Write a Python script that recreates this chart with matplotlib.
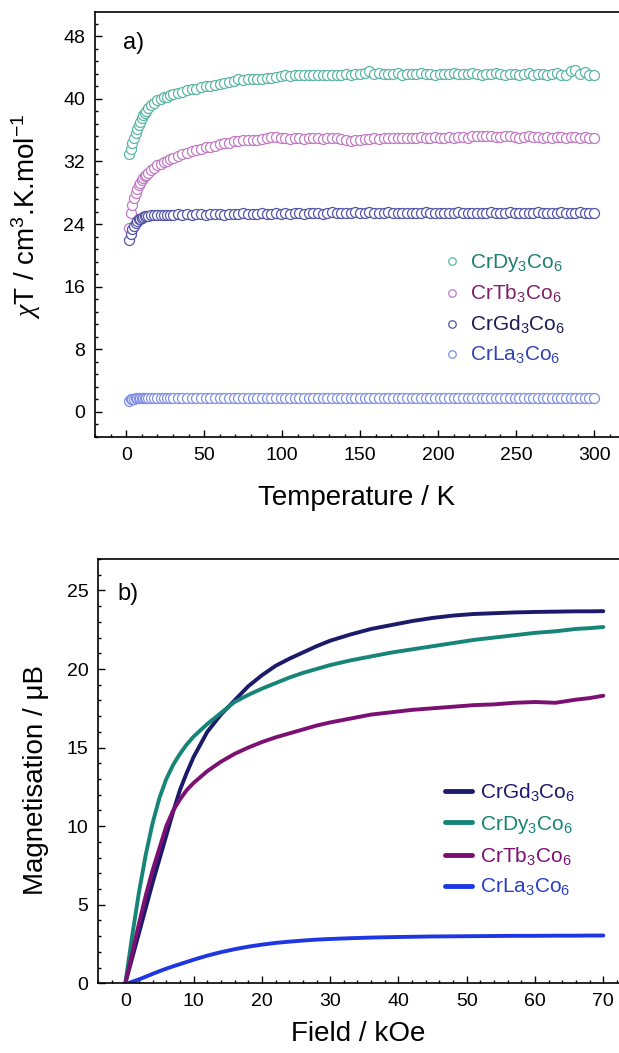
import matplotlib
matplotlib.use("Agg")
import matplotlib.pyplot as plt
from matplotlib.ticker import MultipleLocator, AutoMinorLocator

plt.rcParams['font.family'] = ['Liberation Sans', 'DejaVu Sans']
plt.rcParams['mathtext.fontset'] = 'custom'
plt.rcParams['mathtext.rm'] = 'Liberation Sans'
plt.rcParams['mathtext.it'] = 'Liberation Serif:italic'
plt.rcParams['mathtext.default'] = 'regular'

# ---- a) chi*T vs temperature ----
temperature = [2, 3, 4, 5, 6, 7, 8, 9, 10, 11,
               12, 13, 14, 16, 18, 20, 22, 24, 26, 28,
               30, 33, 36, 39, 42, 45, 48, 51, 54, 57,
               60, 63, 66, 69, 72, 75, 78, 81, 84, 87,
               90, 93, 96, 99, 102, 105, 108, 111, 114, 117,
               120, 123, 126, 129, 132, 135, 138, 141, 144, 147,
               150, 153, 156, 159, 162, 165, 168, 171, 174, 177,
               180, 183, 186, 189, 192, 195, 198, 201, 204, 207,
               210, 213, 216, 219, 222, 225, 228, 231, 234, 237,
               240, 243, 246, 249, 252, 255, 258, 261, 264, 267,
               270, 273, 276, 279, 282, 285, 288, 291, 294, 297,
               300]

chiT_dy = [33.0, 33.6, 34.3, 35.0, 35.6, 36.2, 36.7, 37.1, 37.5, 37.9,
           38.2, 38.5, 38.8, 39.2, 39.5, 39.8, 40.0, 40.2, 40.3, 40.5,
           40.6, 40.8, 40.9, 41.1, 41.2, 41.3, 41.5, 41.6, 41.7, 41.8,
           41.9, 42.0, 42.1, 42.3, 42.6, 42.4, 42.5, 42.5, 42.6, 42.6,
           42.7, 42.7, 42.8, 42.9, 43.1, 42.9, 43.0, 43.0, 43.0, 43.0,
           43.1, 43.0, 43.1, 43.1, 43.1, 43.1, 43.1, 43.2, 43.1, 43.2,
           43.2, 43.3, 43.6, 43.2, 43.3, 43.2, 43.2, 43.2, 43.3, 43.1,
           43.2, 43.2, 43.2, 43.3, 43.2, 43.2, 43.1, 43.2, 43.2, 43.2,
           43.3, 43.2, 43.2, 43.2, 43.3, 43.2, 43.1, 43.2, 43.2, 43.3,
           43.2, 43.1, 43.2, 43.2, 43.1, 43.2, 43.3, 43.1, 43.2, 43.2,
           43.1, 43.2, 43.3, 43.0, 43.1, 43.5, 43.7, 43.2, 43.4, 43.0,
           43.0]

chiT_tb = [23.5, 25.4, 26.5, 27.3, 28.0, 28.5, 29.0, 29.3, 29.6, 29.9,
           30.1, 30.3, 30.5, 30.9, 31.2, 31.5, 31.7, 31.9, 32.1, 32.3,
           32.5, 32.7, 32.9, 33.1, 33.3, 33.5, 33.6, 33.8, 33.9, 34.0,
           34.2, 34.3, 34.4, 34.6, 34.6, 34.7, 34.7, 34.8, 34.8, 34.9,
           35.0, 35.1, 35.1, 35.0, 35.0, 34.9, 35.0, 35.0, 34.9, 35.0,
           35.0, 35.0, 34.9, 35.0, 35.0, 35.0, 34.9, 34.7, 34.6, 34.8,
           34.8, 34.9, 34.9, 35.0, 34.9, 35.0, 35.0, 35.0, 35.0, 35.0,
           35.0, 35.0, 35.0, 35.1, 35.0, 35.0, 35.1, 35.0, 35.0, 35.1,
           35.0, 35.1, 35.1, 35.0, 35.2, 35.3, 35.2, 35.2, 35.2, 35.1,
           35.1, 35.2, 35.2, 35.1, 35.0, 35.1, 35.2, 35.1, 35.1, 35.0,
           35.1, 35.0, 35.1, 35.1, 35.0, 35.1, 35.1, 35.0, 35.1, 35.0,
           35.0]

chiT_gd = [22.0, 22.8, 23.4, 23.8, 24.1, 24.4, 24.6, 24.7, 24.8, 24.9,
           25.0, 25.0, 25.0, 25.1, 25.1, 25.1, 25.2, 25.2, 25.2, 25.2,
           25.2, 25.3, 25.2, 25.3, 25.2, 25.3, 25.3, 25.2, 25.3, 25.3,
           25.3, 25.2, 25.3, 25.3, 25.3, 25.4, 25.3, 25.3, 25.3, 25.4,
           25.3, 25.3, 25.4, 25.3, 25.4, 25.3, 25.4, 25.4, 25.3, 25.4,
           25.4, 25.4, 25.3, 25.4, 25.5, 25.4, 25.4, 25.4, 25.4, 25.5,
           25.4, 25.4, 25.5, 25.4, 25.4, 25.4, 25.5, 25.4, 25.4, 25.4,
           25.4, 25.4, 25.4, 25.4, 25.5, 25.4, 25.4, 25.4, 25.4, 25.4,
           25.4, 25.5, 25.4, 25.4, 25.4, 25.4, 25.4, 25.4, 25.5, 25.4,
           25.4, 25.4, 25.5, 25.4, 25.4, 25.4, 25.4, 25.4, 25.5, 25.4,
           25.4, 25.4, 25.4, 25.5, 25.4, 25.4, 25.4, 25.5, 25.4, 25.4,
           25.4]

chiT_la = [1.4, 1.6, 1.7, 1.7, 1.8, 1.8, 1.8, 1.8, 1.8, 1.8,
           1.8, 1.8, 1.8, 1.8, 1.8, 1.8, 1.8, 1.8, 1.8, 1.8,
           1.8, 1.8, 1.8, 1.8, 1.8, 1.8, 1.8, 1.8, 1.8, 1.8,
           1.8, 1.8, 1.8, 1.8, 1.8, 1.8, 1.8, 1.8, 1.8, 1.8,
           1.8, 1.8, 1.8, 1.8, 1.8, 1.8, 1.8, 1.8, 1.8, 1.8,
           1.8, 1.8, 1.8, 1.8, 1.8, 1.8, 1.8, 1.8, 1.8, 1.8,
           1.8, 1.8, 1.8, 1.8, 1.8, 1.8, 1.8, 1.8, 1.8, 1.8,
           1.8, 1.8, 1.8, 1.8, 1.8, 1.8, 1.8, 1.8, 1.8, 1.8,
           1.8, 1.8, 1.8, 1.8, 1.8, 1.8, 1.8, 1.8, 1.8, 1.8,
           1.8, 1.8, 1.8, 1.8, 1.8, 1.8, 1.8, 1.8, 1.8, 1.8,
           1.8, 1.8, 1.8, 1.8, 1.8, 1.8, 1.8, 1.8, 1.8, 1.8,
           1.8]

# ---- b) magnetisation vs field ----
field = [0, 0.5, 1, 1.5, 2, 3, 4, 5, 6, 7, 8, 9, 10, 12, 14, 16, 18, 20,
         22, 24, 26, 28, 30, 33, 36, 39, 42, 45, 48, 51, 54, 57, 60, 63,
         66, 68, 70]

mag_gd = [0.0, 0.8, 1.6, 2.4, 3.2, 4.8, 6.4, 7.9, 9.4, 10.9, 12.3, 13.4,
          14.4, 16.0, 17.1, 18.0, 18.9, 19.6, 20.2, 20.65, 21.05, 21.45,
          21.8, 22.2, 22.55, 22.8, 23.05, 23.25, 23.4, 23.5, 23.55, 23.6,
          23.63, 23.65, 23.67, 23.67, 23.68]
mag_dy = [0.0, 1.5, 3.0, 4.4, 5.8, 8.2, 10.2, 11.8, 13.0, 13.9, 14.6,
          15.2, 15.7, 16.5, 17.2, 17.9, 18.35, 18.75, 19.1, 19.45, 19.75,
          20.0, 20.25, 20.55, 20.8, 21.05, 21.25, 21.45, 21.65, 21.85,
          22.0, 22.15, 22.3, 22.4, 22.55, 22.6, 22.67]
mag_tb = [0.0, 0.95, 1.9, 2.85, 3.8, 5.6, 7.2, 8.6, 10.0, 11.0, 11.7,
          12.3, 12.75, 13.5, 14.1, 14.6, 15.0, 15.35, 15.65, 15.9, 16.15,
          16.4, 16.6, 16.85, 17.1, 17.25, 17.4, 17.5, 17.6, 17.7, 17.75,
          17.85, 17.9, 17.85, 18.05, 18.15, 18.3]
mag_la = [0.0, 0.02, 0.1, 0.17, 0.25, 0.42, 0.6, 0.77, 0.93, 1.08, 1.22,
          1.36, 1.5, 1.76, 1.98, 2.17, 2.33, 2.46, 2.57, 2.65, 2.72, 2.78,
          2.82, 2.87, 2.91, 2.94, 2.96, 2.98, 2.99, 3.0, 3.01, 3.02, 3.02,
          3.03, 3.03, 3.04, 3.04]

labels = {
    'dy': 'CrDy$_3$Co$_6$',
    'tb': 'CrTb$_3$Co$_6$',
    'gd': 'CrGd$_3$Co$_6$',
    'la': 'CrLa$_3$Co$_6$',
}

W, H = 619, 1053
fig = plt.figure(figsize=(W / 100, H / 100), dpi=100)

ax1 = fig.add_axes([95 / W, 1 - 437 / H, 1 - 95 / W, (437 - 12) / H])
ax2 = fig.add_axes([98 / W, 1 - 983.3 / H, 1 - 98 / W, (983.3 - 559) / H])


def style_axes(ax):
    ax.spines['right'].set_visible(False)
    for s in ['left', 'bottom', 'top']:
        ax.spines[s].set_linewidth(1.2)
    ax.tick_params(which='both', direction='in', top=False, right=False,
                   width=1.0, labelsize=14, pad=7)
    ax.tick_params(which='major', length=5)
    ax.tick_params(which='minor', length=2.5)


# panel a
series_a = [
    (chiT_dy, '#5db5a6', '#1f7f70', labels['dy']),
    (chiT_tb, '#c07ac2', '#7a2368', labels['tb']),
    (chiT_gd, '#5454a6', '#1c1c55', labels['gd']),
    (chiT_la, '#7f8fe6', '#3244b5', labels['la']),
]
handles_a = []
for vals, edge, txt, lab in series_a:
    h, = ax1.plot(temperature, vals, linestyle='none', marker='o', ms=7.2,
                  mfc='white', mec=edge, mew=0.9, label=lab)
    handles_a.append(h)

ax1.set_xlim(-20, 316)
ax1.set_ylim(-3.2, 51.1)
ax1.xaxis.set_major_locator(MultipleLocator(50))
ax1.xaxis.set_minor_locator(MultipleLocator(10))
ax1.yaxis.set_major_locator(MultipleLocator(8))
ax1.yaxis.set_minor_locator(AutoMinorLocator(5))
style_axes(ax1)
ax1.set_xlabel('Temperature / K', fontsize=20)
ax1.set_ylabel(r'$\mathit{\chi}$T / cm$^3$.K.mol$^{-1}$', fontsize=20)
ax1.xaxis.set_label_coords(0.5, -0.112)
ax1.yaxis.set_label_coords(-0.1, 0.52)
ax1.text(0.053, 0.927, 'a)', transform=ax1.transAxes, fontsize=17,
         va='center', ha='left')

leg1 = ax1.legend(handles=handles_a, loc='upper left',
                  bbox_to_anchor=(0.665, 0.435), frameon=False, fontsize=15,
                  handlelength=0.8, handletextpad=0.45, labelspacing=0.42,
                  borderpad=0, borderaxespad=0, markerscale=0.75)
for t, (_, _, txt, _) in zip(leg1.get_texts(), series_a):
    t.set_color(txt)

# panel b
series_b = [
    (mag_gd, '#1b1a6b', '#1b1a6b', labels['gd']),
    (mag_dy, '#168477', '#168477', labels['dy']),
    (mag_tb, '#7b1072', '#7b1072', labels['tb']),
    (mag_la, '#1f36e3', '#2a3ec8', labels['la']),
]
handles_b = []
for vals, col, txt, lab in series_b:
    h, = ax2.plot(field, vals, color=col, lw=2.8, solid_capstyle='round',
                  label=lab)
    handles_b.append(h)

ax2.set_xlim(-4, 72.3)
ax2.set_ylim(0, 27)
ax2.xaxis.set_major_locator(MultipleLocator(10))
ax2.xaxis.set_minor_locator(MultipleLocator(2))
ax2.yaxis.set_major_locator(MultipleLocator(5))
ax2.yaxis.set_minor_locator(MultipleLocator(1))
style_axes(ax2)
ax2.set_xlabel('Field / kOe', fontsize=20)
ax2.set_ylabel('Magnetisation / \u03bcB', fontsize=20)
ax2.xaxis.set_label_coords(0.5, -0.09)
ax2.yaxis.set_label_coords(-0.095, 0.48)
ax2.text(0.038, 0.917, 'b)', transform=ax2.transAxes, fontsize=17,
         va='center', ha='left')

leg2 = ax2.legend(handles=handles_b, loc='upper left',
                  bbox_to_anchor=(0.666, 0.475), frameon=False, fontsize=15,
                  handlelength=1.3, handletextpad=0.4, labelspacing=0.46,
                  borderpad=0, borderaxespad=0)
for line in leg2.get_lines():
    line.set_linewidth(3.5)
for t, (_, _, txt, _) in zip(leg2.get_texts(), series_b):
    t.set_color(txt)

fig.savefig('out.png', dpi=100)
